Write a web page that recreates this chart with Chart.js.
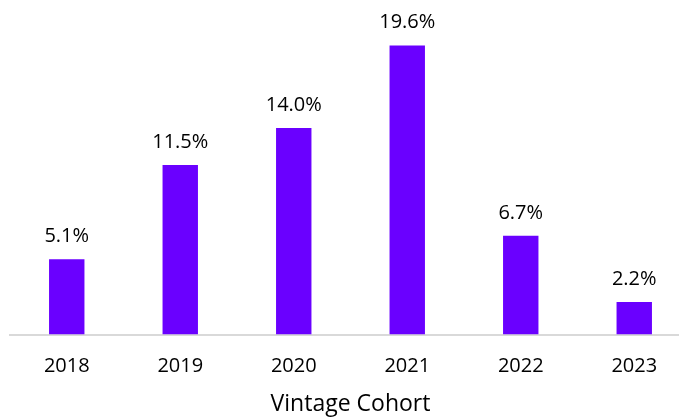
<!DOCTYPE html>
<html>
<head>
<meta charset="utf-8">
<script src="https://cdn.jsdelivr.net/npm/chart.js@4/dist/chart.umd.min.js"></script>
<style>
  html, body { margin: 0; padding: 0; background: #ffffff; overflow: hidden; }
  #wrap { position: relative; width: 701px; height: 418px; }
</style>
</head>
<body>
<div id="wrap"><canvas id="chart"></canvas></div>
<script>
// Share of loans by vintage cohort (%)
const cohorts = ['2018', '2019', '2020', '2021', '2022', '2023'];
const shares = [5.1, 11.5, 14.0, 19.6, 6.7, 2.2];
const axisTitle = 'Vintage Cohort';

const FONT = "'Open Sans', 'Liberation Sans', sans-serif";

// Writes each bar's value above it
const valueLabels = {
  id: 'valueLabels',
  afterDatasetsDraw(chart) {
    const ctx = chart.ctx;
    const meta = chart.getDatasetMeta(0);
    ctx.save();
    ctx.font = `20px ${FONT}`;
    ctx.fillStyle = '#000000';
    ctx.textAlign = 'center';
    ctx.textBaseline = 'alphabetic';
    meta.data.forEach((bar, i) => {
      ctx.fillText(shares[i].toFixed(1) + '%', bar.x, bar.y - 17);
    });
    ctx.restore();
  }
};

new Chart(document.getElementById('chart'), {
  type: 'bar',
  data: {
    labels: cohorts,
    datasets: [{
      data: shares,
      backgroundColor: '#6a00ff',
      borderWidth: 0,
      barPercentage: 0.312,
      categoryPercentage: 1.0
    }]
  },
  options: {
    responsive: true,
    maintainAspectRatio: false,
    animation: false,
    layout: { padding: { left: 10, right: 10, top: 0, bottom: 0 } },
    plugins: { legend: { display: false }, tooltip: { enabled: false } },
    scales: {
      x: {
        grid: { display: false, drawTicks: false },
        border: { display: true, color: '#d9d9d9', width: 2 },
        ticks: { color: '#000000', font: { family: FONT, size: 20 }, padding: 20 },
        title: {
          display: true,
          text: axisTitle,
          color: '#000000',
          font: { family: FONT, size: 23 },
          padding: { top: 0, bottom: 0 }
        },
        afterFit(scale) { scale.height = 83.5; }
      },
      y: {
        display: false,
        min: 0,
        max: 22.68
      }
    }
  },
  plugins: [valueLabels]
});
</script>
</body>
</html>
